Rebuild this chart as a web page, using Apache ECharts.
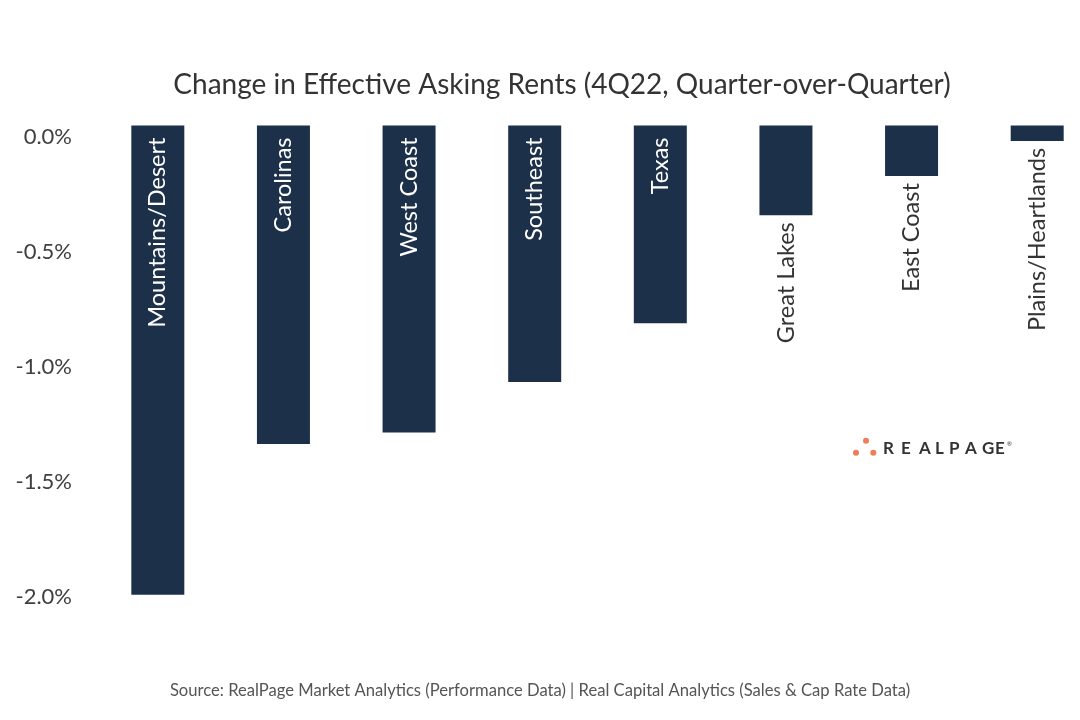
<!DOCTYPE html>
<html>
<head>
<meta charset="utf-8">
<script src="https://cdn.jsdelivr.net/npm/echarts@6/dist/echarts.min.js"></script>
<style>html,body{margin:0;padding:0;background:#fff;}#c{width:1080px;height:720px;}</style>
</head>
<body>
<div id="c"></div>
<script>
var categories = ['Mountains/Desert', 'Carolinas', 'West Coast', 'Southeast', 'Texas', 'Great Lakes', 'East Coast', 'Plains/Heartlands'];
var values = [-2.04, -1.385, -1.335, -1.115, -0.86, -0.39, -0.22, -0.067];
var labelInside = [true, true, true, true, true, false, false, false];
var yTicks = [0, -0.5, -1.0, -1.5, -2.0];

var chart = echarts.init(document.getElementById('c'));
var font = 'Lato, "Noto Sans", sans-serif';
var navy = '#1c304a';

var data = values.map(function (v, i) {
  var inside = labelInside[i];
  return {
    value: v,
    label: inside ? {
      position: 'insideTop', distance: 12, color: '#ffffff'
    } : {
      position: 'bottom', distance: 7, color: '#333333'
    }
  };
});

var logoLetters = 'REALPAGE'.split('');
var logoX = [889, 907, 925, 941, 955, 971, 988, 1001];
var graphics = logoLetters.map(function (ch, i) {
  return {
    type: 'text', left: logoX[i] - 6, top: 440,
    style: { text: ch, fill: '#333333', font: 'bold 17px ' + font, textAlign: 'left' }
  };
});
graphics.push(
  { type: 'circle', shape: { cx: 856, cy: 452.7, r: 3 }, style: { fill: '#f07c5a' } },
  { type: 'circle', shape: { cx: 866, cy: 440.7, r: 3 }, style: { fill: '#f07c5a' } },
  { type: 'circle', shape: { cx: 873.3, cy: 452.7, r: 3 }, style: { fill: '#f07c5a' } },
  { type: 'text', left: 1007, top: 441, style: { text: '®', fill: '#333333', font: '6px ' + font } }
);

chart.setOption({
  backgroundColor: '#ffffff',
  animation: false,
  title: [{
    text: 'Change in Effective Asking Rents (4Q22, Quarter-over-Quarter)',
    left: 557, top: 66, textAlign: 'center',
    textStyle: { fontFamily: font, fontSize: 28, fontWeight: 'normal', color: '#333333' }
  }, {
    text: 'Source: RealPage Market Analytics (Performance Data) | Real Capital Analytics (Sales & Cap Rate Data)',
    left: 535, top: 677, textAlign: 'center',
    textStyle: { fontFamily: font, fontSize: 16.6, fontWeight: 'normal', color: '#555555' }
  }],
  grid: { left: 95, width: 1005, top: 125.5, bottom: 19.5, containLabel: false, outerBoundsMode: 'none' },
  xAxis: {
    type: 'category', data: categories, position: 'top',
    axisLine: { show: false }, axisTick: { show: false }, axisLabel: { show: false },
    splitLine: { show: false }
  },
  yAxis: {
    type: 'value', min: -2.5, max: 0, interval: 0.5,
    axisLine: { show: false }, axisTick: { show: false }, splitLine: { show: false },
    axisLabel: {
      margin: 23, fontFamily: font, fontSize: 22, color: '#404040',
      verticalAlign: 'top',
      formatter: function (v) {
        var ok = yTicks.some(function (t) { return Math.abs(t - v) < 1e-9; });
        if (!ok) return '';
        return v.toFixed(1) + '%';
      }
    }
  },
  series: [{
    type: 'bar', data: data, barWidth: 53,
    itemStyle: { color: navy },
    label: {
      show: true, rotate: 90, align: 'right', verticalAlign: 'middle',
      fontFamily: font, fontSize: 23.5,
      formatter: function (p) { return p.name; }
    }
  }],
  graphic: graphics
});
</script>
</body>
</html>
